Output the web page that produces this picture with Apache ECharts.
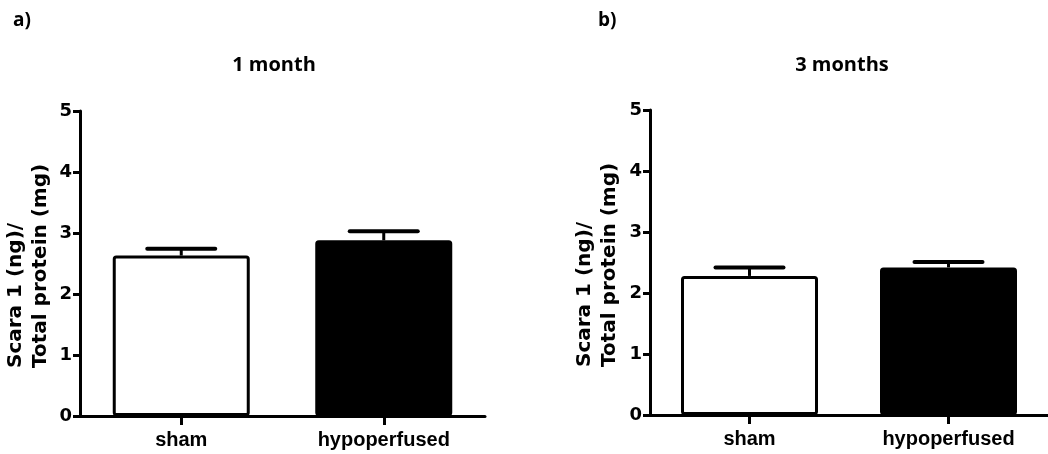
<!DOCTYPE html>
<html>
<head>
<meta charset="utf-8">
<script src="https://cdn.jsdelivr.net/npm/echarts@6/dist/echarts.min.js"></script>
<style>
  html, body { margin: 0; padding: 0; background: #fff; }
  #chart { width: 1048px; height: 454px; }
</style>
</head>
<body>
<div id="chart"></div>
<script>
// Scara 1 levels, sham vs hypoperfused, at two time points (mean + SEM)
const categories = ['sham', 'hypoperfused'];
const panelTags = ['a)', 'b)'];
const panelTitles = ['1 month', '3 months'];
const mean1Month = [2.63, 2.88];
const sem1Month = [0.11, 0.15];
const mean3Months = [2.28, 2.42];
const sem3Months = [0.14, 0.09];
const yMin = 0;
const yMax = 5;
const yStep = 1;
const yTitleLines = ['Scara 1 (ng)/', 'Total protein (mg)'];

const barFills = ['#ffffff', '#000000'];
const tickFont = 'DejaVu Sans';
const catFont = 'Liberation Sans';
const titleFont = 'Open Sans';

const panels = [
  { means: mean1Month, sems: sem1Month, grid: { left: 80, top: 111, width: 405, height: 305 },
    tagX: 13, titleX: 274, yTitleX: 28, yTitleY: 368 },
  { means: mean3Months, sems: sem3Months, grid: { left: 650, top: 110, width: 404, height: 305 },
    tagX: 598, titleX: 842, yTitleX: 597, yTitleY: 367 }
];

const chart = echarts.init(document.getElementById('chart'), null, { renderer: 'canvas' });

const grids = [], xAxes = [], yAxes = [], series = [], graphics = [];

panels.forEach((p, i) => {
  grids.push(Object.assign({ containLabel: false }, p.grid));

  xAxes.push({
    type: 'category',
    gridIndex: i,
    data: categories,
    boundaryGap: true,
    axisLine: { show: true, lineStyle: { color: '#000', width: 3 } },
    axisTick: { show: true, alignWithLabel: true, length: 9, lineStyle: { color: '#000', width: 3 } },
    axisLabel: { color: '#000', fontFamily: catFont, fontWeight: 'bold', fontSize: 20, margin: 14 },
    splitLine: { show: false }
  });

  yAxes.push({
    type: 'value',
    gridIndex: i,
    min: yMin,
    max: yMax,
    interval: yStep,
    axisLine: { show: true, lineStyle: { color: '#000', width: 3 } },
    axisTick: { show: true, length: 7, lineStyle: { color: '#000', width: 3 } },
    axisLabel: { color: '#000', fontFamily: tickFont, fontWeight: 'bold', fontSize: 18, margin: 8 },
    splitLine: { show: false }
  });

  series.push({
    type: 'bar',
    xAxisIndex: i,
    yAxisIndex: i,
    barWidth: 137,
    z: 2,
    data: p.means.map((v, k) => ({
      value: v,
      itemStyle: { color: barFills[k], borderColor: '#000', borderWidth: 3, borderRadius: 2 }
    })),
    emphasis: { disabled: true }
  });

  // SEM whiskers: stem from the bar top up to a rounded cap
  series.push({
    type: 'custom',
    xAxisIndex: i,
    yAxisIndex: i,
    z: 3,
    data: p.means.map((v, k) => [k, v, p.sems[k]]),
    renderItem: function (params, api) {
      const cat = api.value(0);
      const m = api.value(1);
      const e = api.value(2);
      const base = api.coord([cat, m]);
      const top = api.coord([cat, m + e]);
      const half = 34;
      return {
        type: 'group',
        children: [
          { type: 'line', shape: { x1: base[0], y1: base[1], x2: top[0], y2: top[1] },
            style: { stroke: '#000', lineWidth: 3 } },
          { type: 'line', shape: { x1: top[0] - half, y1: top[1], x2: top[0] + half, y2: top[1] },
            style: { stroke: '#000', lineWidth: 4, lineCap: 'round' } }
        ]
      };
    }
  });

  graphics.push({
    type: 'text', left: p.tagX, top: 11,
    style: { text: panelTags[i], fill: '#000', font: 'bold 19px "' + titleFont + '"' }
  });
  graphics.push({
    type: 'text', x: p.titleX, y: 65,
    style: { text: panelTitles[i], fill: '#000', font: 'bold 20px "' + titleFont + '"',
             align: 'center', verticalAlign: 'middle' }
  });
  graphics.push({
    type: 'text', x: p.yTitleX, y: p.yTitleY, rotation: Math.PI / 2,
    style: { text: yTitleLines.join('\n'), fill: '#000', font: 'bold 20px "' + tickFont + '"',
             align: 'left', verticalAlign: 'middle', lineHeight: 25 }
  });
});

chart.setOption({
  backgroundColor: '#ffffff',
  animation: false,
  grid: grids,
  xAxis: xAxes,
  yAxis: yAxes,
  series: series,
  graphic: graphics
});
</script>
</body>
</html>
